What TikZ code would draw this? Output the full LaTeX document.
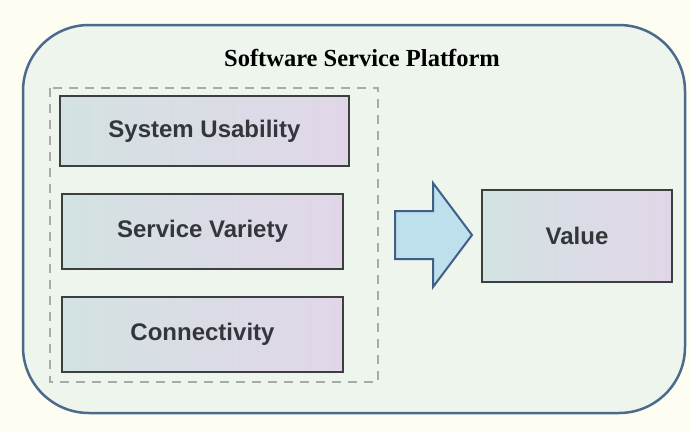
\documentclass[tikz,border=0pt]{standalone}
\usepackage{fontspec}
\setmainfont{Liberation Serif}
\setsansfont{Liberation Sans}
\begin{document}
\begin{tikzpicture}[x=1pt,y=-1pt,
  factor/.style={draw=boxline, line width=1.8pt,
    left color=boxleft, right color=boxright,
    font=\sffamily\bfseries\fontsize{24}{28}\selectfont, text=labeltext},
]
\definecolor{paper}{HTML}{FDFDF2}
\definecolor{platfill}{HTML}{EDF5ED}
\definecolor{platline}{HTML}{4B6A8C}
\definecolor{groupline}{HTML}{A8ACA8}
\definecolor{boxline}{HTML}{3C3F40}
\definecolor{boxleft}{HTML}{D3E2E2}
\definecolor{boxright}{HTML}{E1D6E8}
\definecolor{labeltext}{HTML}{33363A}
\definecolor{arrowfill}{HTML}{BEE0EC}
\definecolor{arrowline}{HTML}{3E5F86}

% canvas
\fill[paper] (0,0) rectangle (691,432);
\useasboundingbox (0,0) rectangle (691,432);

% platform frame
\draw[platline, fill=platfill, line width=2.5pt, rounded corners=66pt]
  (23,25) rectangle (685,413);
\node[font=\bfseries\fontsize{24.5}{28}\selectfont] (title) at (362,58) {Software Service Platform};

% dashed group of platform factors
\draw[groupline, line width=2pt, dash pattern=on 9pt off 7pt] (50,88) rectangle (378,382);

\node[factor, minimum width=289pt, minimum height=70pt] (usab) at (204.5,131) {System Usability};
\node[factor, minimum width=281pt, minimum height=75pt] (vari) at (202.5,231.5) {Service Variety};
\node[factor, minimum width=281pt, minimum height=75pt] (conn) at (202.5,334.5) {Connectivity};

% block arrow towards value
\draw[arrowline, fill=arrowfill, line width=2pt, line join=miter]
  (395,211) -- (433,211) -- (433,183) -- (472,235) -- (433,287) -- (433,259) -- (395,259) -- cycle;

\node[factor, minimum width=190pt, minimum height=92pt] (value) at (577,236) {Value};
\end{tikzpicture}
\end{document}
